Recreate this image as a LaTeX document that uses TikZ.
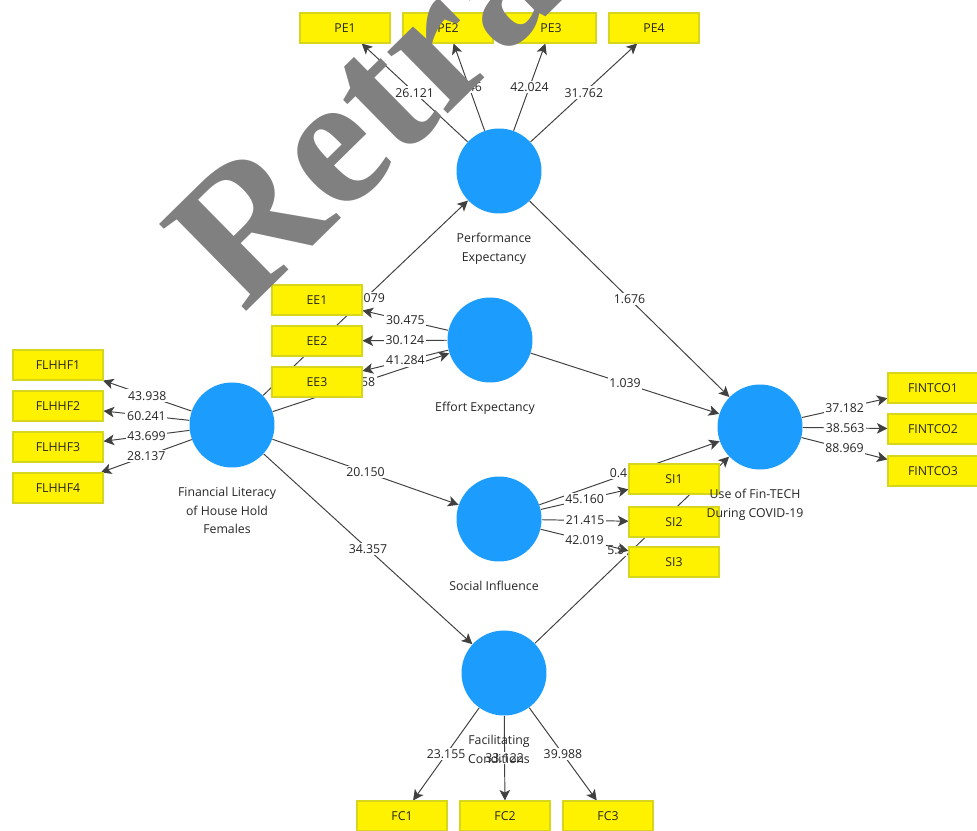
\documentclass[tikz,border=0pt]{standalone}
\usepackage{fontspec}
\setmainfont{Open Sans}
\newfontfamily\stampfont{Liberation Serif}
\usetikzlibrary{arrows.meta,positioning,backgrounds}
\definecolor{lvblue}{RGB}{28,156,252}
\definecolor{indedge}{RGB}{214,214,30}
\begin{document}
\begin{tikzpicture}[x=0.02cm, y=-0.02cm, >={Stealth[length=6pt,width=6pt,inset=1.5pt]},
    every node/.style={font=\fontsize{7}{10.6}\selectfont, text=black!85},
    lv/.style={circle, fill=lvblue, minimum size=1.7cm, inner sep=0pt},
    ind/.style={fill=yellow, draw=indedge, line width=0.6pt, minimum width=1.8cm, minimum height=0.6cm, inner sep=0pt},
    lvname/.style={align=center, inner sep=2pt, xshift=-0.1cm},
    val/.style={fill=white, inner sep=1pt},
    link/.style={->, draw=black!75, line width=0.55pt}]
\useasboundingbox (0,0) rectangle (977,831);
\node[lv] (pe) at (499,171) {};
\node[lv] (ee) at (490,340) {};
\node[lv] (fl) at (232,425) {};
\node[lv] (si) at (499,519) {};
\node[lv] (fc) at (504,673) {};
\node[lv] (fin) at (760,427) {};

\node[ind] (pe1) at (345,28) {PE1};
\node[ind] (pe2) at (448,28) {PE2};
\node[ind] (pe3) at (551,28) {PE3};
\node[ind] (pe4) at (654,28) {PE4};
\node[ind] (ee1) at (317,300) {EE1};
\node[ind] (ee2) at (317,341) {EE2};
\node[ind] (ee3) at (317,382) {EE3};
\node[ind] (fl1) at (58,365) {FLHHF1};
\node[ind] (fl2) at (58,406) {FLHHF2};
\node[ind] (fl3) at (58,447) {FLHHF3};
\node[ind] (fl4) at (58,488) {FLHHF4};
\node[ind] (si1) at (674,479) {SI1};
\node[ind] (si2) at (674,522) {SI2};
\node[ind] (si3) at (674,562) {SI3};
\node[ind] (fc1) at (402,816) {FC1};
\node[ind] (fc2) at (505,816) {FC2};
\node[ind] (fc3) at (608,816) {FC3};
\node[ind] (fin1) at (933,388) {FINTCO1};
\node[ind] (fin2) at (933,429) {FINTCO2};
\node[ind] (fin3) at (933,471) {FINTCO3};

\node[lvname, below=8.8pt of pe] {Performance\\Expectancy};
\node[lvname, below=8.8pt of ee] {Effort Expectancy};
\node[lvname, below=8.8pt of fl] {Financial Literacy\\of House Hold\\Females};
\node[lvname, below=8.8pt of si] {Social Influence};
\node[lvname, below=8.8pt of fc] {Facilitating\\Conditions};
\node[lvname, below=8.8pt of fin] {Use of Fin-TECH\\During COVID-19};

\begin{scope}[on background layer]
\fill[white] (0,0) rectangle (977,831);
\draw[link] (fl) -- node[val, anchor=west, xshift=-0.08cm]{079} (pe);
\draw[link] (fl) -- node[val, anchor=east, xshift=0.33cm]{58} (ee);
\draw[link] (fl) -- node[val]{20.150} (si);
\draw[link] (fl) -- node[val]{34.357} (fc);
\draw[link] (pe) -- node[val]{1.676} (fin);
\draw[link] (ee) -- node[val]{1.039} (fin);
\draw[link] (si) -- node[val, anchor=east]{0.4} (fin);
\draw[link] (fc) -- node[val, anchor=east, xshift=-0.1cm]{5.9} (fin);

\draw[link] (pe) -- node[val]{26.121} (pe1);
\draw[link] (pe) -- node[val, anchor=east, xshift=0.3cm]{46} (pe2);
\draw[link] (pe) -- node[val]{42.024} (pe3);
\draw[link] (pe) -- node[val]{31.762} (pe4);
\draw[link] (ee) -- node[val]{30.475} (ee1);
\draw[link] (ee) -- node[val]{30.124} (ee2);
\draw[link] (ee) -- node[val]{41.284} (ee3);
\draw[link] (fl) -- node[val]{43.938} (fl1);
\draw[link] (fl) -- node[val]{60.241} (fl2);
\draw[link] (fl) -- node[val]{43.699} (fl3);
\draw[link] (fl) -- node[val]{28.137} (fl4);
\draw[link] (si) -- node[val]{45.160} (si1);
\draw[link] (si) -- node[val]{21.415} (si2);
\draw[link] (si) -- node[val]{42.019} (si3);
\draw[link] (fc) -- node[val]{23.155} (fc1);
\draw[link] (fc) -- node[val]{33.122} (fc2);
\draw[link] (fc) -- node[val]{39.988} (fc3);
\draw[link] (fin) -- node[val]{37.182} (fin1);
\draw[link] (fin) -- node[val]{38.563} (fin2);
\draw[link] (fin) -- node[val]{88.969} (fin3);
\end{scope}

\begin{scope}
\clip (0,0) rectangle (977,831);
\node[text=gray, rotate=44.5, anchor=base west, inner sep=0pt, font=\stampfont\bfseries\fontsize{107}{107}\selectfont] (stamp) at (243,315) {Retra};
\end{scope}
\end{tikzpicture}
\end{document}
